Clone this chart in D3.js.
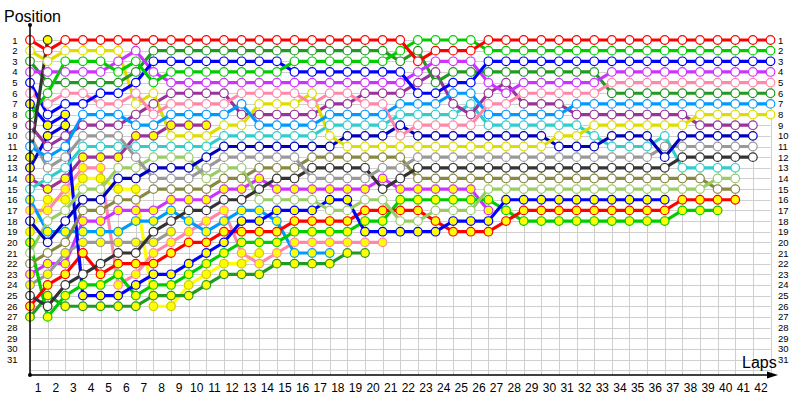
<!DOCTYPE html>
<html><head><meta charset="utf-8">
<script src="https://cdn.jsdelivr.net/npm/d3@7"></script>
<style>body{margin:0;background:#fff}svg{display:block}</style>
</head><body>
<svg id="chart" width="800" height="400"></svg>
<script>
const lapTicks = d3.range(1, 43);
const positionTicks = d3.range(1, 32);
const _ = null;

// position per lap (index = lap 0..42), null = not running
const red      = [1,2,1,1,1,1,1,1,1,1, 1,1,1,1,1,1,1,1,1,1, 1,1,3,2,2,2,1,1,1,1, 1,1,1,1,1,1,1,1,1,1, 1,1,1];
const green    = [8,6,3,3,3,4,3,5,4,4, 4,4,4,4,4,3,3,3,3,3, 3,2,1,1,1,1,2,2,2,2, 2,2,2,2,2,2,2,2,2,2, 2,2,2];
const blue     = [5,8,7,7,6,6,5,3,3,3, 3,3,3,3,3,4,4,4,4,4, 4,4,6,6,5,5,3,3,3,3, 3,3,3,3,3,3,3,3,3,3, 3,3,3];
const magenta  = [4,4,4,4,4,3,2,4,5,5, 5,5,5,5,5,5,5,5,5,5, 5,5,4,3,3,3,5,6,5,5, 5,5,5,4,4,4,4,4,4,4, 4,4,4];
const pink     = [6,7,6,6,7,7,6,8,7,7, 7,7,6,6,6,6,7,6,6,7, 7,10,9,9,9,9,7,7,6,6, 6,6,6,5,5,5,5,5,5,5, 5,5,5];
const dkgreen  = [3,5,5,5,5,5,4,2,2,2, 2,2,2,2,2,2,2,2,2,2, 2,3,2,5,4,4,4,4,4,4, 4,4,4,6,6,6,6,6,6,6, 6,6,6];
const ltblue   = [11,12,11,8,8,8,9,9,8,8, 8,8,7,9,9,9,9,8,8,8, 8,7,7,7,6,6,8,8,8,8, 8,7,7,7,7,7,7,7,7,7, 7,7,7];
const yellow   = [2,3,2,2,2,2,7,6,10,10, 10,9,9,7,7,7,6,10,11,11, 11,11,11,11,11,11,11,11,11,11, 10,10,9,9,9,9,9,9,8,8, 8,8,8];
const purple   = [9,11,10,9,9,9,8,7,6,6, 6,6,8,8,8,8,8,7,7,6, 6,6,5,4,7,8,6,5,7,7, 7,8,8,8,8,8,8,8,9,9, 9,9,_];
const cyan     = [15,14,13,11,11,11,11,11,11,11, 11,10,10,10,10,10,10,9,9,9, 9,8,8,8,8,7,9,9,9,9, 9,9,10,11,11,11,10,13,13,13, 13,_,_];
const navy     = [18,20,18,16,16,14,14,13,13,13, 12,11,11,11,11,11,11,11,10,10, 10,9,10,10,10,10,10,10,10,10, 11,11,11,10,10,10,12,10,10,10, 10,10,_];
const gray     = [10,13,12,10,10,10,12,14,14,14, 13,12,12,12,12,12,14,14,14,14, 13,13,12,12,12,12,12,12,12,12, 12,12,12,12,12,12,11,11,11,11, 11,11,_];
const dark     = [25,26,24,23,22,21,21,19,18,17, 17,16,16,15,14,14,13,13,13,13, 15,14,13,13,13,13,13,13,13,13, 13,13,13,13,13,13,13,12,12,12, 12,12,_];
const olive    = [22,21,20,17,17,16,16,15,15,15, 15,14,14,13,13,13,12,12,12,12, 12,12,14,14,14,14,14,14,14,14, 14,14,14,14,14,14,14,14,14,15, 15,_,_];
const ltgreen  = [21,18,17,15,15,13,13,12,12,12, 14,13,13,16,16,16,16,17,17,16, 16,18,18,17,17,17,15,15,15,15, 15,15,15,15,15,15,15,15,15,14, 14,_,_];
const magentaY = [23,22,22,18,18,17,17,17,16,16, 16,15,15,14,15,15,15,15,15,15, 14,15,15,15,15,15,17];
const purpleY  = [14,15,14,12,12,12,10,10,9,9, 9];
const yellowY  = [19,16,16,14,14,15,15,26,26,24, 23,22,22,21];
const ltblueY  = [16,19,19,19,19,19,18,18,17,18, 19,18,17,17,18,21,21,21];
const pinkY    = [17,17,15,13,13,24,23,21,20,19, 18,17,21,22,21,20,20,20,20,20, 20];
const redY     = [26,24,23,21,23,22,22,22,21,20, 20,19,19,19,19,18,18,18,18,17, 17,17,17,18,19,19,19,18,17,17, 17,17,17,17,17,17,17,16,16,16, 16];
const blueY    = [7,9,8,25,25,25,24,23,23,22, 21,20,18,18,17,17,17,16,16,19, 19,19,19,19,18,18,18,16,16,16, 16,16,16,16,16,16,16];
const greenY   = [20,27,25,24,24,23,25,24,24,23, 22,21,20,20,20,19,19,19,19,18, 18,16,16,16,16,16,16,17,18,18, 18,18,18,18,18,18,18,17,17,17];
const dkgreenY = [27,25,26,26,26,26,26,25,25,25, 24,23,23,23,22,22,22,22,21,21];
const grayY    = [24,23,21,20,20,20,20,20,19];
const navyY    = [13,10,9];
const darkY    = [12,1];

const W = "#ffffff", Y = "#ffff00";
const drivers = [
  {c:"#ffff00", d:"#cccc00", f:Y, p:yellowY},
  {c:"#ff88aa", f:Y, p:pinkY},
  {c:"#0099ff", f:Y, p:ltblueY},
  {c:"#cc33ff", f:Y, p:magentaY},
  {c:"#993399", f:Y, p:purpleY},
  {c:"#999999", f:Y, p:grayY},
  {c:"#229922", f:Y, p:dkgreenY},
  {c:"#00cc00", f:Y, p:greenY},
  {c:"#ff0000", f:Y, p:redY},
  {c:"#0000dd", f:Y, p:navyY},
  {c:"#0000ff", f:Y, p:blueY},
  {c:"#888844", f:W, p:olive},
  {c:"#99cc66", f:W, p:ltgreen},
  {c:"#33cccc", f:W, p:cyan},
  {c:"#333333", f:W, p:dark},
  {c:"#999999", f:W, p:gray},
  {c:"#0000bb", f:W, p:navy},
  {c:"#993399", f:W, p:purple},
  {c:"#dddd00", f:W, p:yellow},
  {c:"#0099ff", f:W, p:ltblue},
  {c:"#229922", f:W, p:dkgreen},
  {c:"#ff88aa", f:W, p:pink},
  {c:"#cc33ff", f:W, p:magenta},
  {c:"#0000ff", f:W, p:blue},
  {c:"#00cc00", f:W, p:green},
  {c:"#333333", f:Y, p:darkY},
  {c:"#ff0000", f:W, p:red}
];

const svg = d3.select("#chart");
const x = d3.scaleLinear().domain([0, 42]).range([30, 770.5]);
const y = d3.scaleLinear().domain([1, 31]).range([40, 359.5]);
const xLabel = d3.scaleLinear().domain([1, 42]).range([37.6, 760.5]);
const font = "'Liberation Sans', Arial, sans-serif";

// grid
const grid = svg.append("g").attr("stroke", "#cfcfcf").attr("stroke-width", 1);
grid.selectAll("line.v").data(d3.range(0, 43)).join("line")
  .attr("x1", d => Math.round(x(d)) + 0.5).attr("x2", d => Math.round(x(d)) + 0.5)
  .attr("y1", y(1)).attr("y2", 375);
grid.selectAll("line.h").data(d3.range(1, 33)).join("line")
  .attr("x1", 30).attr("x2", x(42))
  .attr("y1", d => Math.round(y(d)) + 0.5).attr("y2", d => Math.round(y(d)) + 0.5);

// lines
const line = d3.line().defined(d => d.v != null).x(d => x(d.lap)).y(d => y(d.v));
const series = drivers.map(dr => ({...dr, pts: dr.p.map((v, i) => ({lap: i, v}))}));
svg.append("g").selectAll("path").data(series).join("path")
  .attr("fill", "none").attr("stroke", d => d.c).attr("stroke-width", 3.2)
  .attr("stroke-linejoin", "round").attr("d", d => line(d.pts));

// points
const pg = svg.append("g");
series.forEach(s => {
  pg.append("g").selectAll("circle").data(s.pts.filter(d => d.v != null)).join("circle")
    .attr("cx", d => x(d.lap)).attr("cy", d => y(d.v)).attr("r", 4.3)
    .attr("fill", s.f).attr("stroke", s.d || s.c).attr("stroke-width", 1.2);
});

// axes
const ax = svg.append("g");
ax.append("line").attr("x1", 30).attr("x2", 30).attr("y1", 25).attr("y2", 375).attr("stroke", "#000").attr("stroke-width", 1.5);
ax.append("line").attr("x1", 30).attr("x2", 772).attr("y1", 375).attr("y2", 375).attr("stroke", "#000").attr("stroke-width", 1.5);
ax.append("circle").attr("cx", 30).attr("cy", 25).attr("r", 2).attr("fill", "#000");
ax.append("circle").attr("cx", 30).attr("cy", 375).attr("r", 2).attr("fill", "#000");
ax.append("path").attr("d", "M767,371.5L778,375L767,378.5Z").attr("fill", "#000");

const leftAxis = svg.append("g").attr("transform", "translate(30,0)")
  .call(d3.axisLeft(y).tickValues(positionTicks).tickSize(0).tickPadding(12.5).tickFormat(d3.format("d")));
const rightAxis = svg.append("g").attr("transform", `translate(${x(42)},0)`)
  .call(d3.axisRight(y).tickValues(positionTicks).tickSize(0).tickPadding(7.5).tickFormat(d3.format("d")));
[leftAxis, rightAxis].forEach(g => {
  g.select(".domain").remove();
  g.selectAll("text").attr("font-family", font).attr("font-size", 9.5).attr("fill", "#000");
});
const bottomAxis = svg.append("g").attr("transform", "translate(0,375)")
  .call(d3.axisBottom(xLabel).tickValues(lapTicks).tickSize(0).tickPadding(8).tickFormat(d3.format("d")));
bottomAxis.select(".domain").remove();
bottomAxis.selectAll("text").attr("font-family", font).attr("font-size", 12).attr("fill", "#000");

svg.append("text").attr("x", 4).attr("y", 22).attr("font-family", font).attr("font-size", 16).text("Position");
svg.append("text").attr("x", 742).attr("y", 368).attr("font-family", font).attr("font-size", 16).text("Laps");
</script>
</body></html>
